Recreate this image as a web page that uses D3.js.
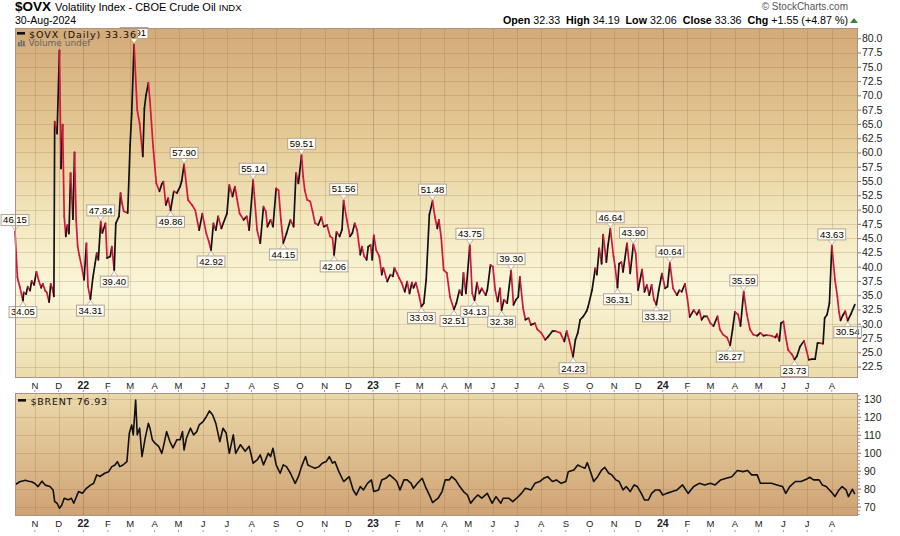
<!DOCTYPE html>
<html><head><meta charset="utf-8">
<script src="https://cdn.jsdelivr.net/npm/d3@7"></script>
<style>body{margin:0;background:#fff;} svg{display:block;font-family:"Liberation Sans",Arial,sans-serif;}</style>
</head><body><svg id="c" width="900" height="536"></svg>
<script>
// ---- DATA (day offsets from 7-Oct-2021) ----
const startDate = new Date(2021, 9, 7);
const endDay = 1062;
const ovx2021 = [[0,46.15],[3,38.2],[4,37.6],[6,36.5],[10,34.05],[11,35.5],[14,35.2],[16,36.5],[19,35.8],[21,37.5],[24,36.8],[27,39.1],[30,37.5],[33,36.3],[35,37],[38,35.8],[40,35.5],[43,33.8],[45,37],[47,36.2],[49,34.8],[50,65.4],[53,63.3],[56,77.9],[58,57.2],[60,64.9],[62,48.8],[64,45.3],[66,47.3],[68,45.8],[70,56.4],[73,48.3],[75,60],[77,48.2],[79,43.5],[81,42],[84,40]];
const ovx2022 = [[87,37.7],[90,44.1],[92,36.5],[95,34.31],[98,38],[101,40.6],[103,42.4],[105,41.2],[108,47.84],[110,45.9],[114,47.6],[116,41.5],[120,41.8],[122,43.5],[125,39.4],[127,47.6],[131,48.8],[133,52.9],[135,51],[137,49.7],[142,49.4],[145,61.3],[147,66.8],[150,78.91],[154,67.4],[157,65.1],[161,59.3],[163,67.7],[165,70],[168,72.2],[170,69.1],[174,61],[178,54.6],[182,53.2],[185,54.5],[187,54.9],[190,50.8],[193,52],[196,49.86],[200,53.2],[204,52.9],[208,54],[210,55],[213,57.9],[218,51.7],[223,50.8],[227,49.9],[232,46.4],[236,49.3],[241,45.8],[244,44.5],[247,42.92],[250,47.6],[253,46.4],[256,48.8],[260,46.7],[267,49.3],[270,54.3],[274,52.3],[277,54],[283,49.3],[288,48.2],[292,48.8],[295,46.4],[300,55.14],[305,46.4],[309,44.1],[313,50.5],[316,49.7],[318,47],[322,48.2],[325,47],[329,53.7],[332,53.4],[335,48.2],[338,44.15],[342,45.8],[347,48.2],[351,47],[354,56.4],[357,54.6],[361,59.51],[363,55.8],[365,53.4],[368,51.7],[372,51.4],[375,49.6],[378,47.6],[382,47.3],[386,48.7],[389,47],[393,47.3],[397,45.3],[400,45],[402,42.06],[405,46.1],[409,45.3],[412,46.5],[414,51.56],[418,48.2],[422,45.3],[425,45.9],[428,47.6],[431,46.4],[435,42.1],[437,43.5],[440,41.8],[443,41.2],[445,43.5],[448,43.8],[450,41.2]];
const ovx2023 = [[452,45.5],[455,42.9],[459,41.8],[462,38.6],[464,39.8],[469,37.4],[473,38.6],[476,38.3],[478,39.8],[481,38.9],[484,38],[487,37.2],[491,35.6],[494,37.4],[497,35.3],[500,37.2],[502,36.3],[505,37.2],[508,35.6],[512,33.03],[515,33.6],[518,37.7],[522,49.1],[526,51.48],[529,48.7],[532,46.7],[534,48.2],[537,45],[540,39.4],[544,38.9],[548,34.7],[553,32.51],[556,33.6],[560,35.9],[563,35],[565,38.9],[568,35.3],[573,43.75],[576,35.3],[579,34.13],[582,37.2],[585,35.3],[588,36.2],[593,35],[595,35.9],[599,40.3],[602,40],[605,35.9],[608,33.9],[611,36.2],[613,32.38],[616,34.2],[620,33.6],[625,39.3],[628,33.3],[631,34.2],[634,34.7],[636,38.2],[640,32.8],[643,30.7],[647,31],[650,29.8],[655,30.1],[658,29],[663,28.4],[668,27.2],[672,27.8],[677,28.7],[681,28.7],[687,28.4],[692,26.9],[695,28.7],[698,27.2],[703,24.23],[706,27.2],[709,28.4],[712,30.7],[716,31.3],[720,32.2],[722,33],[727,35.9],[731,39.7],[733,38.6],[736,43.2],[739,40.5],[741,45.6],[745,40.8],[747,43.7],[750,46.64],[754,41.8],[756,40],[759,36.31],[761,40.5],[764,40.8],[766,39.1],[771,44.1],[775,38.8],[779,43.9],[782,42.3],[785,35.9],[790,39.5],[793,35.6],[796,36.8],[799,35],[802,36.8],[805,34.2],[808,33.32],[811,35.9],[815,38.8]];
const ovx2024 = [[819,36.2],[822,36.5],[825,40.64],[829,36.2],[834,35],[837,35.9],[840,35.6],[844,37],[847,34.5],[850,31.2],[855,32.4],[859,31.6],[862,32.4],[865,30.7],[868,31.3],[872,31.3],[876,30.1],[880,29.6],[885,31.3],[888,29],[892,28.1],[897,27.6],[901,26.27],[904,29],[907,32.1],[911,31.6],[914,29.6],[918,35.59],[922,31.6],[926,29],[930,28.1],[935,27.9],[939,28.4],[943,27.9],[947,28],[953,27.9],[958,27.6],[960,28.2],[963,27],[965,30.1],[968,30.4],[971,27.6],[974,25.4],[979,24.6],[982,23.73],[985,24.3],[989,26],[994,27],[997,25.4],[1000,23.7],[1004,23.8],[1008,23.8],[1011,26.6],[1014,26.6],[1018,26.5],[1020,31],[1023,31.6],[1026,33.6],[1029,43.63],[1033,37.7],[1036,34.8],[1038,32.1],[1040,30.6],[1043,31.5],[1046,32.2],[1049,30.54],[1053,31.7],[1058,33.36]];

const brent2021 = [[0,82.3],[1,82.5],[6,83.9],[13,84.7],[17,84.2],[21,83.9],[25,82.9],[29,81.2],[34,84.2],[38,82],[44,81.2],[48,79.3],[50,72.8],[53,71.9],[56,69.1],[59,70.9],[62,74.7],[67,73.8],[71,74.7],[74,71.9],[80,78.4],[85,77.5]];
const brent2022 = [[90,80.2],[95,82],[99,82.9],[103,87.7],[107,86.8],[113,88.6],[118,89.5],[122,92.3],[126,93.2],[129,95.1],[132,92.3],[136,93.2],[141,95.1],[144,110.9],[147,115.5],[149,110],[152,129.4],[154,110],[157,113.7],[160,97.9],[164,108.2],[168,116.4],[170,113.7],[173,107.3],[176,105.5],[181,103.6],[185,99.7],[188,105.5],[191,111.8],[195,106.4],[199,102.7],[204,107.3],[208,107.3],[211,111.8],[213,101.6],[216,108.2],[221,113.7],[225,110],[229,111.8],[232,115.5],[237,117.4],[241,120.1],[245,123.3],[249,121],[253,116.4],[258,106.2],[262,113.7],[266,111],[270,99.7],[275,110],[278,99.7],[284,104.5],[290,100.9],[295,103.6],[300,94.2],[305,96],[309,98.8],[313,93.3],[319,99.7],[322,97.9],[325,102.5],[329,93.3],[334,88.6],[338,93.3],[342,92.3],[347,88.6],[353,83],[357,86.7],[361,92.3],[366,97.9],[369,93.2],[373,92.3],[378,91.4],[383,92.3],[387,94.2],[392,95.1],[396,97.9],[400,94.2],[403,95.1],[408,89.5],[414,84],[421,86.7],[426,79.3],[430,76.5],[435,81.2],[439,79.3],[444,83],[449,84.9]];
const brent2023 = [[452,78.4],[458,79.3],[462,84.9],[467,85.8],[472,87.7],[477,85.8],[481,84],[485,79.3],[490,84.9],[494,84.9],[499,83],[502,80.2],[507,83],[513,85.8],[517,81.2],[523,75.6],[526,72.3],[533,74.7],[538,78.4],[542,84.9],[547,84.9],[550,86.7],[555,84.9],[559,82.1],[565,78.4],[570,76.5],[574,71.9],[579,74.7],[583,76.5],[588,74.7],[595,77.4],[601,71.9],[606,75.6],[612,71.9],[615,74.7],[622,74.7],[627,72.8],[632,74.7],[638,77.4],[643,80.2],[650,79.3],[655,83],[661,84],[666,85.8],[671,86.7],[677,84],[682,84.9],[688,83],[694,84],[697,89.5],[704,90.4],[709,93.2],[713,92.3],[718,91.4],[721,94.5],[725,89.5],[729,84],[734,86.7],[739,90.4],[743,91.9],[748,88.6],[752,87.7],[757,84.9],[761,84],[766,79.3],[770,81.2],[775,78.4],[780,82.1],[784,81.2],[789,77.4],[793,73.7],[798,73.7],[802,77.4],[807,79.3],[812,79.3]];
const brent2024 = [[816,76.5],[821,77.4],[828,78.4],[834,79.3],[841,82.1],[848,77.4],[855,81.2],[862,83],[869,82.1],[876,83],[882,82.1],[889,84.9],[896,85.8],[903,86.7],[910,90.1],[917,89.5],[923,90.1],[928,87.7],[935,87.7],[939,83],[946,83],[953,83],[960,82.1],[967,81.2],[971,77.4],[976,81.2],[983,84],[990,84],[997,85.2],[1001,86.4],[1006,84.9],[1013,84.9],[1017,82.1],[1022,81.2],[1026,79.3],[1028,78.4],[1033,75.6],[1038,79.3],[1042,81.2],[1047,79.3],[1050,75.6],[1055,79.7],[1058,76.93]];

// annotated peaks/troughs: day offset and side (1 = above, -1 = below)
const labelDays  = [0,10,95,108,125,150,196,213,247,300,338,361,402,414,512,526,553,573,579,613,625,703,750,759,779,808,825,901,918,982,1029,1049];
const labelSides = [1,-1,-1,1,-1,1,-1,1,-1,1,-1,1,-1,1,-1,1,-1,1,-1,-1,1,-1,1,-1,1,-1,1,-1,1,-1,1,-1];

const ovxTicks = [22.5,25,27.5,30,32.5,35,37.5,40,42.5,45,47.5,50,52.5,55,57.5,60,62.5,65,67.5,70,72.5,75,77.5,80];
const brentTicks = [70,80,90,100,110,120,130];
const monthLetters = ["J","F","M","A","M","J","J","A","S","O","N","D"];
const header = {sym:"$OVX", name:"Volatility Index - CBOE Crude Oil", ex:"INDX", date:"30-Aug-2024",
  open:"32.33", high:"34.19", low:"32.06", close:"33.36", chg:"+1.55 (+4.87 %)"};
const brentLast = "76.93";

// ---- LAYOUT ----
const L = 15, R = 858, T1 = 28, B1 = 378, T2 = 393, B2 = 516;
const svg = d3.select("#c");
const defs = svg.append("defs");
const gm = defs.append("linearGradient").attr("id","gMain").attr("x1",0).attr("y1",0).attr("x2",0).attr("y2",1);
[[0,"#d3aa79"],[0.3,"#e4c994"],[0.55,"#f3e8bf"],[0.75,"#faf6d9"],[1,"#ecdcac"]].forEach(([o,c])=>gm.append("stop").attr("offset",o).attr("stop-color",c));
const gl = defs.append("linearGradient").attr("id","gLow").attr("x1",0).attr("y1",0).attr("x2",0).attr("y2",1);
[[0,"#ebd9aa"],[1,"#cfa273"]].forEach(([o,c])=>gl.append("stop").attr("offset",o).attr("stop-color",c));

const toDate = d => d3.timeDay.offset(startDate, d);
const x = d3.scaleTime().domain([startDate, toDate(endDay)]).range([L, R]);
const y1 = d3.scaleLinear().domain([20.5, 81.8]).range([B1, T1]);
const y2 = d3.scaleLinear().domain([64.8, 133.3]).range([B2, T2]);

const ovx = [...ovx2021, ...ovx2022, ...ovx2023, ...ovx2024].map(([d,v])=>({day:d, date:toDate(d), v}));
const brent = [...brent2021, ...brent2022, ...brent2023, ...brent2024].map(([d,v])=>({day:d, date:toDate(d), v}));
const months = d3.timeMonth.range(new Date(2021,10,1), new Date(2024,8,1));

// panels
svg.append("rect").attr("x",L).attr("y",T1).attr("width",R-L).attr("height",B1-T1).attr("fill","url(#gMain)");
svg.append("rect").attr("x",L).attr("y",T2).attr("width",R-L).attr("height",B2-T2).attr("fill","url(#gLow)");

// grid
const grid = svg.append("g");
months.forEach(m=>{
  const isY = m.getMonth()===0;
  [[T1,B1],[T2,B2]].forEach(([a,b])=>grid.append("line").attr("x1",Math.round(x(m))+0.5).attr("x2",Math.round(x(m))+0.5).attr("y1",a).attr("y2",b)
    .attr("stroke", isY ? "rgba(125,90,60,0.33)" : "rgba(140,100,60,0.22)").attr("stroke-width",1));
});
ovxTicks.forEach(t=>grid.append("line").attr("x1",L).attr("x2",R).attr("y1",Math.round(y1(t))+0.5).attr("y2",Math.round(y1(t))+0.5)
  .attr("stroke","rgba(140,100,60,0.22)"));
brentTicks.forEach(t=>grid.append("line").attr("x1",L).attr("x2",R).attr("y1",Math.round(y2(t))+0.5).attr("y2",Math.round(y2(t))+0.5)
  .attr("stroke","rgba(140,100,60,0.22)"));

// right axes
const ax1 = svg.append("g").attr("transform",`translate(${R},0)`)
  .call(d3.axisRight(y1).tickValues(ovxTicks).tickFormat(d3.format(".1f")).tickSize(3).tickPadding(1));
const ax2 = svg.append("g").attr("transform",`translate(${R},0)`)
  .call(d3.axisRight(y2).tickValues(brentTicks).tickFormat(d3.format("d")).tickSize(3).tickPadding(3));
svg.append("g").attr("transform",`translate(${R},0)`)
  .call(d3.axisRight(y2).tickValues(d3.range(66,134,2)).tickFormat("").tickSize(2))
  .call(g=>g.select(".domain").remove()).selectAll("line").attr("stroke","#b09080");
[ax1, ax2].forEach(a=>{
  a.select(".domain").remove();
  a.selectAll("line").attr("stroke","#8a7468");
  a.selectAll("text").attr("fill","#222").style("font-size","10.5px").style("font-family","Liberation Sans, Arial, sans-serif");
});

// x axes (month labels)
function monthLabel(m){ return m.getMonth()===0 ? d3.timeFormat("%y")(m) : monthLetters[m.getMonth()]; }
[[388.5,390],[527,530]].forEach(([ty,tk])=>{
  const g = svg.append("g");
  months.forEach(m=>{
    const isY = m.getMonth()===0;
    g.append("text").attr("x",x(m)).attr("y",ty).attr("text-anchor","middle")
      .style("font-size", isY ? "10.5px" : "9.5px").style("font-weight", isY ? "bold":"normal")
      .attr("fill","#222").text(monthLabel(m));
    g.append("line").attr("x1",x(m)).attr("x2",x(m)).attr("y1",tk).attr("y2",tk+2).attr("stroke","#999");
  });
});

// OVX line: black on up moves, red on down moves
const segs = svg.append("g");
for (let i=1;i<ovx.length;i++){
  const a=ovx[i-1], b=ovx[i];
  segs.append("line").attr("x1",x(a.date)).attr("y1",y1(a.v)).attr("x2",x(b.date)).attr("y2",y1(b.v))
    .attr("stroke", b.v>=a.v ? "#111" : "#d7143a").attr("stroke-width",1.7).attr("stroke-linecap","round");
}

// Brent line
svg.append("path").datum(brent).attr("fill","none").attr("stroke","#111").attr("stroke-width",1.6).attr("stroke-linejoin","round")
  .attr("d", d3.line().x(d=>x(d.date)).y(d=>y2(d.v)));

// annotations
const ann = svg.append("g");
labelDays.forEach((day,i)=>{
  const p = ovx.find(q=>q.day===day);
  const side = labelSides[i];
  const px = x(p.date), py = y1(p.v);
  const g = ann.append("g");
  const t = g.append("text").style("font-size","9.5px").attr("fill","#000").attr("text-anchor","middle").text(d3.format(".2f")(p.v));
  const w = t.node().getComputedTextLength()+4, h = 11, tri = 5;
  let boxY, triPath;
  if (side>0){
    boxY = py - 1 - tri - h;
    triPath = `M${px},${py-1} L${px-4},${py-1-tri-0.5} L${px+4},${py-1-tri-0.5} Z`;
  } else {
    boxY = py + 1 + tri;
    triPath = `M${px},${py+1} L${px-4},${py+1+tri+0.5} L${px+4},${py+1+tri+0.5} Z`;
  }
  g.insert("path","text").attr("d",triPath).attr("fill","#fffdf4").attr("stroke","#b3a49a").attr("stroke-width",0.8);
  g.insert("rect","text").attr("x",px-w/2).attr("y",boxY).attr("width",w).attr("height",h).attr("fill","#fffdf4").attr("stroke","#b3a49a").attr("stroke-width",1);
  t.attr("x",px).attr("y",boxY+h-2.2);
});

// borders
svg.append("rect").attr("x",L+0.5).attr("y",T1+0.5).attr("width",R-L-1).attr("height",B1-T1-1).attr("fill","none").attr("stroke","#a8928a");
svg.append("rect").attr("x",L+0.5).attr("y",T2+0.5).attr("width",R-L-1).attr("height",B2-T2-1).attr("fill","none").attr("stroke","#a8928a");

// legends
const lg = svg.append("g").style("font-family","DejaVu Sans, Verdana, sans-serif");
lg.append("rect").attr("x",16).attr("y",29).attr("width",122).attr("height",10).attr("fill","#d3aa79");
lg.append("rect").attr("x",17).attr("y",32).attr("width",8).attr("height",2.6).attr("fill","#111");
lg.append("text").attr("x",29).attr("y",37.5).style("font-size","9.5px").attr("fill","#111")
  .attr("textLength",107).attr("lengthAdjust","spacing").text(`${header.sym} (Daily) ${header.close}`);
[[18,4],[20.5,6],[23,5]].forEach(([bx,bh])=>lg.append("rect").attr("x",bx).attr("y",46-bh).attr("width",1.8).attr("height",bh).attr("fill","#707070"));
lg.append("rect").attr("x",17.5).attr("y",45.5).attr("width",8).attr("height",0.8).attr("fill","#707070");
lg.append("text").attr("x",28.5).attr("y",46).style("font-size","9px").attr("fill","#666")
  .attr("textLength",62).attr("lengthAdjust","spacing").text("Volume undef");
lg.append("rect").attr("x",18).attr("y",399).attr("width",8).attr("height",2.6).attr("fill","#111");
lg.append("text").attr("x",30.5).attr("y",404.5).style("font-size","9.5px").attr("fill","#111")
  .attr("textLength",76.5).attr("lengthAdjust","spacing").text(`$BRENT ${brentLast}`);

// header
const h1 = svg.append("text").attr("x",15).attr("y",11).attr("fill","#000");
h1.append("tspan").style("font-weight","bold").style("font-size","13.5px").text(header.sym);
h1.append("tspan").attr("dx",4).style("font-size","11px").text(header.name);
h1.append("tspan").attr("dx",3).style("font-size","9.5px").text(header.ex);
svg.append("text").attr("x",15).attr("y",23.5).style("font-size","10px").attr("fill","#000")
  .attr("textLength",61).attr("lengthAdjust","spacingAndGlyphs").text(header.date);
svg.append("text").attr("x",848).attr("y",10).attr("text-anchor","end").style("font-size","10px").attr("fill","#555").text("© StockCharts.com");
const h2 = svg.append("text").attr("x",848).attr("y",24).attr("text-anchor","end").style("font-size","10.7px").attr("fill","#000");
[["Open",header.open],["High",header.high],["Low",header.low],["Close",header.close],["Chg",header.chg]].forEach(([k,v],i)=>{
  h2.append("tspan").attr("dx", i? 6:0).style("font-weight","bold").text(k);
  h2.append("tspan").attr("dx",3).text(v);
});
svg.append("path").attr("d","M850,23 L854,18 L858,23 Z").attr("fill","#2e8b2e");
</script></body></html>
